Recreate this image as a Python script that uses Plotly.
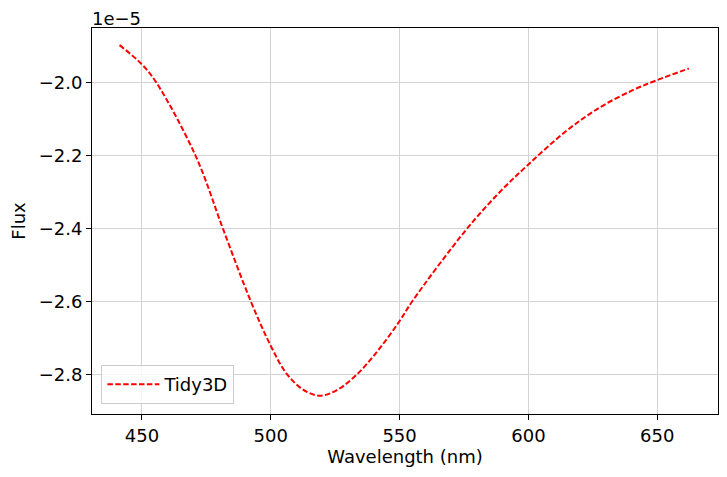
import plotly.graph_objects as go

# Data (flux in units of 1e-5)
wavelength_nm = [441.3, 450.0, 455.6, 470.9, 481.5, 492.2, 500.2,
                 506.1, 512.5, 519.0, 525.5, 533.5, 541.7, 549.8, 555.0, 576.0, 588.9,
                 599.9, 614.8, 627.7, 640.7, 650.0, 662.3]
flux_e5 = [-1.897, -1.950, -2.000, -2.202, -2.402, -2.599, -2.725,
           -2.798, -2.842, -2.859, -2.844, -2.800, -2.734, -2.656, -2.599, -2.402, -2.300,
           -2.225, -2.132, -2.068, -2.020, -1.993, -1.961]
series_name = "Tidy3D"
x_ticks = [450, 500, 550, 600, 650]
y_ticks = [-2.8, -2.6, -2.4, -2.2, -2.0]

FONT = "DejaVu Sans"
FS = 18

fig = go.Figure()
fig.add_trace(go.Scatter(
    x=wavelength_nm, y=flux_e5, mode="lines", name=series_name,
    line=dict(color="red", width=2, dash="5.5px,2.4px", shape="spline", smoothing=1.0),
))

axis_common = dict(
    showgrid=True, gridcolor="#d3d3d3", gridwidth=0.8,
    showline=True, linecolor="black", linewidth=1, mirror=True,
    ticks="outside", ticklen=5, tickwidth=1, tickcolor="black",
    tickfont=dict(family=FONT, size=FS, color="black"),
    zeroline=False, automargin=False,
)

# page body has an 8px margin, so the figure is sized to fit the 727x477 window
fig.update_layout(
    width=719, height=469,
    margin=dict(l=84, r=9, t=20, b=63, autoexpand=False),
    paper_bgcolor="white", plot_bgcolor="white",
    font=dict(family=FONT, size=FS, color="black"),
    xaxis=dict(range=[430.6, 673.6], tickvals=x_ticks,
               title=dict(text="Wavelength (nm)", font=dict(family=FONT, size=FS), standoff=2),
               **axis_common),
    yaxis=dict(range=[-2.909, -1.850], tickvals=y_ticks, tickformat=".1f",
               title=dict(text="Flux", font=dict(family=FONT, size=FS), standoff=8),
               **axis_common),
    showlegend=True,
    legend=dict(x=0.015, y=0.026, xanchor="left", yanchor="bottom",
                bgcolor="rgba(255,255,255,0.8)", bordercolor="#cccccc", borderwidth=1,
                itemwidth=52, font=dict(family=FONT, size=FS)),
    annotations=[dict(text="1e−5", xref="paper", yref="paper", x=0, y=1,
                      xanchor="left", yanchor="bottom", yshift=-3, xshift=-2, showarrow=False,
                      font=dict(family=FONT, size=FS))],
)

fig.write_html("out.html")
